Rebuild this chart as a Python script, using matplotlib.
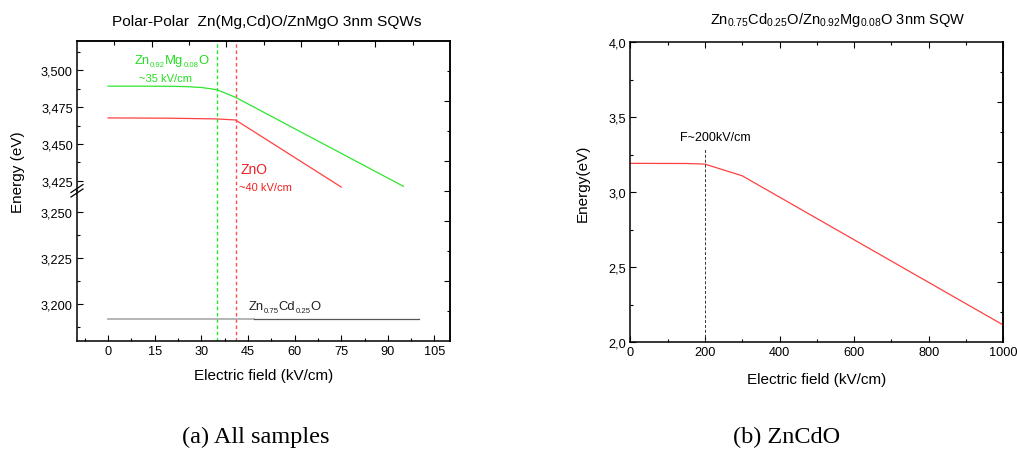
import numpy as np
import matplotlib
matplotlib.use("Agg")
import matplotlib.pyplot as plt
from matplotlib.ticker import MultipleLocator, FuncFormatter, FixedLocator
from matplotlib.lines import Line2D

plt.rcParams['font.family'] = ['Liberation Sans', 'DejaVu Sans']
plt.rcParams['mathtext.fontset'] = 'custom'
plt.rcParams['mathtext.rm'] = 'Liberation Sans'
plt.rcParams['mathtext.default'] = 'regular'

# ---- (a) all samples: confinement energy vs. electric field ----
zn_mg_field = [0, 10, 20, 25, 30, 35, 41, 95]
zn_mg_energy = [3.4893, 3.4893, 3.4892, 3.4890, 3.4884, 3.4869, 3.4817, 3.4212]

zno_field = [0, 20, 35, 41, 75]
zno_energy = [3.4677, 3.4675, 3.4670, 3.4663, 3.4207]

zncd_field_a = [0, 47]
zncd_field_b = [47, 100]
zncd_energy = [3.192, 3.192]

zn_mg_critical = 35
zno_critical = 41

xticks_a = [0, 15, 30, 45, 60, 75, 90, 105]

# ---- (b) ZnCdO ----
zncd_field = [0, 150, 200, 300, 1000]
zncd_energy_b = [3.193, 3.192, 3.188, 3.110, 2.115]
zncd_critical = 200

GREEN = '#2ee62e'
RED = '#ff4040'
GREEN_TXT = '#22dd22'
RED_TXT = '#ee2020'

W, H = 1017, 456
fig = plt.figure(figsize=(W / 100, H / 100), dpi=100)


def px(x0, y0, x1, y1):
    return [x0 / W, 1 - y1 / H, (x1 - x0) / W, (y1 - y0) / H]


comma3 = FuncFormatter(lambda v, p: f"{v:.3f}".replace('.', ','))
comma1 = FuncFormatter(lambda v, p: f"{v:.1f}".replace('.', ','))

SPINE_W = 1.1
tick_kw = dict(direction='in', width=0.8, labelsize=9.2, pad=3)


def style(ax):
    for s in ax.spines.values():
        s.set_linewidth(SPINE_W)
    ax.tick_params(which='major', length=4.5, **tick_kw)
    ax.tick_params(which='minor', length=2.5, direction='in', width=0.8)


def formula(ax, x, y, parts, color, size=9.4, sub_size=5.6, drop=2.0):
    """Chemical formula with small, lowered subscripts; (x, y) is the left baseline."""
    prev = None
    for text, is_sub in parts:
        fs = sub_size if is_sub else size
        dy = -drop if is_sub else 0
        if prev is None:
            prev = ax.annotate(text, xy=(x, y), xycoords='data', xytext=(0, dy),
                               textcoords='offset points', ha='left', va='baseline',
                               color=color, fontsize=fs, annotation_clip=False)
        else:
            prev = ax.annotate(text, xy=(1, y), xycoords=(prev, 'data'), xytext=(0, dy),
                               textcoords='offset points', ha='left', va='baseline',
                               color=color, fontsize=fs, annotation_clip=False)


ax_top = fig.add_axes(px(77, 42, 450, 192))
ax_bot = fig.add_axes(px(77, 192, 450, 342))

for ax in (ax_top, ax_bot):
    ax.set_xlim(-10, 110)
    style(ax)
    ax.yaxis.set_major_locator(MultipleLocator(0.025))
    ax.yaxis.set_minor_locator(MultipleLocator(0.0125))
    ax.yaxis.set_major_formatter(comma3)
    ax.tick_params(axis='y', which='both', left=True, right=False)
    ax.axvline(zn_mg_critical, color='#22ee22', lw=1.0, ls=(0, (2.5, 2)))
    ax.axvline(zno_critical, color='#ff5050', lw=1.0, ls=(0, (2.5, 2)))

ax_top.set_ylim(3.418, 3.520)
ax_bot.set_ylim(3.180, 3.2616)
ax_top.spines['bottom'].set_visible(False)
ax_bot.spines['top'].set_visible(False)
ax_top.tick_params(axis='x', which='both', bottom=False, top=False, labelbottom=False)

ax_bot.xaxis.set_major_locator(FixedLocator(xticks_a))
ax_bot.xaxis.set_minor_locator(MultipleLocator(7.5))
ax_bot.tick_params(axis='x', which='both', top=False)

ax_top.plot(zn_mg_field, zn_mg_energy, color=GREEN, lw=0.9)
ax_top.plot(zno_field, zno_energy, color=RED, lw=0.9)
ax_bot.plot(zncd_field_a, zncd_energy, color='#a8a8a8', lw=1.2)
ax_bot.plot(zncd_field_b, zncd_energy, color='#555555', lw=0.9)

# independent top / right tick rows
frac = (lambda x: (x + 10) / 120, lambda f: f * 120 - 10)
sec_top = ax_top.secondary_xaxis('top', functions=frac)
sec_top.set_xticks([0.2, 0.4, 0.6, 0.8])
sec_top.set_xticks([0.1, 0.3, 0.5, 0.7, 0.9], minor=True)
sec_top.tick_params(which='major', direction='in', length=4, width=0.8, labeltop=False)
sec_top.tick_params(which='minor', direction='in', length=3, width=0.8)
sec_top.spines['top'].set_linewidth(SPINE_W)

for ax, lo, hi, majors, minors in ((ax_top, 3.418, 3.520, [0.2, 0.6], [0.4, 0.8]),
                                   (ax_bot, 3.180, 3.2616, [0.4, 0.8, 1.0], [0.2, 0.6])):
    span = hi - lo
    sec = ax.secondary_yaxis('right', functions=(lambda y, lo=lo, span=span: (y - lo) / span,
                                                 lambda f, lo=lo, span=span: f * span + lo))
    sec.set_yticks(majors)
    sec.set_yticks(minors, minor=True)
    sec.tick_params(which='major', direction='in', length=4, width=0.8, labelright=False)
    sec.tick_params(which='minor', direction='in', length=2.5, width=0.8)
    sec.spines['right'].set_linewidth(SPINE_W)

# break marks on the left axis
for dy in (0, 4.5):
    fig.add_artist(Line2D([71 / W, 83 / W], [1 - (198 - dy) / H, 1 - (190 - dy) / H],
                          color='black', lw=0.9))

formula(ax_top, 8.6, 3.5048, [('Zn', False), ('0.92', True), ('Mg', False),
                              ('0.08', True), ('O', False)], GREEN_TXT)
ax_top.text(18.5, 3.495, '~35 kV/cm', color=GREEN_TXT, fontsize=8, ha='center', va='center')
ax_top.text(46.8, 3.4327, 'ZnO', color=RED_TXT, fontsize=10, ha='center', va='center')
ax_top.text(50.5, 3.4205, '~40 kV/cm', color=RED_TXT, fontsize=8, ha='center', va='center')
formula(ax_bot, 45.2, 3.1972, [('Zn', False), ('0.75', True), ('Cd', False),
                               ('0.25', True), ('O', False)], '#222222')

ax_bot.set_xlabel('Electric field (kV/cm)', fontsize=11, labelpad=8)
fig.text(18 / W, 1 - 172 / H, 'Energy (eV)', rotation=90, fontsize=11, ha='center', va='center')
fig.text(267 / W, 1 - 22 / H, 'Polar-Polar  Zn(Mg,Cd)O/ZnMgO 3nm SQWs', fontsize=11.1,
         ha='center', va='center')

# ---- (b) ----
axb = fig.add_axes(px(630.3, 43.3, 1003.3, 343.3))
style(axb)
axb.set_xlim(0, 1000)
axb.set_ylim(2.0, 4.0)
axb.xaxis.set_major_locator(MultipleLocator(200))
axb.xaxis.set_minor_locator(MultipleLocator(100))
axb.yaxis.set_major_locator(MultipleLocator(0.5))
axb.yaxis.set_minor_locator(MultipleLocator(0.25))
axb.yaxis.set_major_formatter(comma1)
axb.tick_params(axis='x', which='both', top=True)
axb.tick_params(axis='y', which='both', right=False)
secb = axb.secondary_yaxis('right')
secb.set_yticks([2.4, 2.8, 3.2, 3.6])
secb.set_yticks([2.2, 2.6, 3.0, 3.4, 3.8], minor=True)
secb.tick_params(which='major', direction='in', length=4, width=0.8, labelright=False)
secb.tick_params(which='minor', direction='in', length=2.5, width=0.8)
secb.spines['right'].set_linewidth(SPINE_W)

axb.plot(zncd_field, zncd_energy_b, color=RED, lw=0.9, clip_on=False)
axb.plot([zncd_critical, zncd_critical], [2.0, 3.29], color='#333333', lw=0.7, ls=(0, (3, 2)))
axb.text(229, 3.371, 'F~200kV/cm', fontsize=9, ha='center', va='center')
axb.set_xlabel('Electric field (kV/cm)', fontsize=11, labelpad=10)
fig.text(583 / W, 1 - 183 / H, 'Energy(eV)', rotation=90, fontsize=11, ha='center', va='center')
fig.text(838 / W, 1 - 20 / H, r'Zn$_{0.75}$Cd$_{0.25}$O/Zn$_{0.92}$Mg$_{0.08}$O 3nm SQW',
         fontsize=10.5, ha='center', va='center')

# sub-figure captions
fig.text(256 / W, 1 - 437 / H, '(a) All samples', family='Liberation Serif', fontsize=17.5,
         ha='center', va='center')
fig.text(787 / W, 1 - 437 / H, '(b) ZnCdO', family='Liberation Serif', fontsize=17.5,
         ha='center', va='center')

fig.savefig('out.png', dpi=100)
